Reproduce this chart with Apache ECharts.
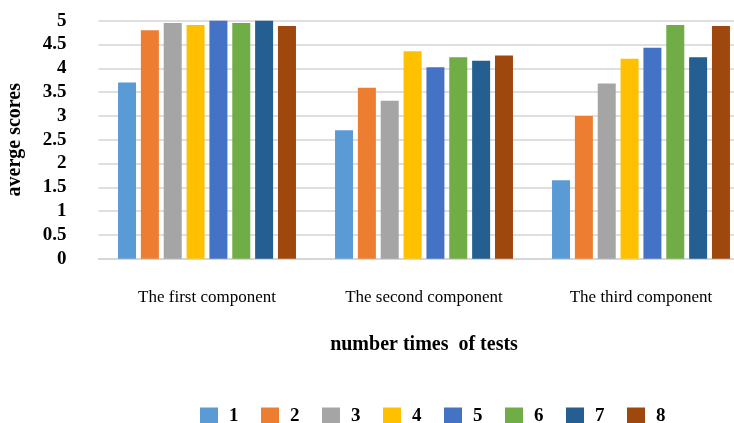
<!DOCTYPE html>
<html>
<head>
<meta charset="utf-8">
<script src="https://cdn.jsdelivr.net/npm/echarts@6/dist/echarts.min.js"></script>
<style>
  html, body { margin: 0; padding: 0; background: #fff; }
  #chart { width: 734px; height: 423px; }
</style>
</head>
<body>
<div id="chart"></div>
<script>
var categories = ['The first component', 'The second component', 'The third component'];
var testNames = ['1', '2', '3', '4', '5', '6', '7', '8'];
var test1 = [3.70, 2.70, 1.65];
var test2 = [4.80, 3.59, 3.00];
var test3 = [4.95, 3.32, 3.68];
var test4 = [4.91, 4.36, 4.20];
var test5 = [5.00, 4.02, 4.43];
var test6 = [4.95, 4.23, 4.91];
var test7 = [5.00, 4.16, 4.23];
var test8 = [4.89, 4.27, 4.89];
var colors = ['#5B9BD5', '#ED7D31', '#A5A5A5', '#FFC000', '#4472C4', '#70AD47', '#255E91', '#9E480E'];

var allValues = [test1, test2, test3, test4, test5, test6, test7, test8];
var font = '"Liberation Serif", "Times New Roman", serif';

var series = testNames.map(function (name, i) {
  return {
    name: name,
    type: 'bar',
    data: allValues[i],
    barGap: '27%',
    barCategoryGap: '18%',
    itemStyle: { color: colors[i] }
  };
});

var myChart = echarts.init(document.getElementById('chart'));
var option = {
  animation: false,
  color: colors,
  grid: { left: 98.5, top: 20.7, width: 651, bottom: 164.3, outerBoundsMode: 'none', containLabel: false },
  legend: {
    data: testNames,
    left: 195,
    top: 402,
    itemWidth: 18,
    itemHeight: 18,
    itemGap: 22.5,
    icon: 'rect',
    textStyle: {
      fontFamily: font, fontWeight: 'bold', fontSize: 19, color: '#000',
      padding: [0, 0, 0, 6]
    }
  },
  xAxis: {
    type: 'category',
    data: categories,
    name: 'number times  of tests',
    nameLocation: 'middle',
    nameGap: 76,
    nameTextStyle: { fontFamily: font, fontWeight: 'bold', fontSize: 20, color: '#000' },
    axisLine: { lineStyle: { color: '#d4d4d4', width: 1.5 } },
    axisTick: { show: false },
    axisLabel: { margin: 30, fontFamily: font, fontSize: 17, color: '#000' }
  },
  yAxis: {
    type: 'value',
    min: 0,
    max: 5,
    interval: 0.5,
    name: 'averge scores',
    nameLocation: 'middle',
    nameGap: 74,
    nameTextStyle: { fontFamily: font, fontWeight: 'bold', fontSize: 20, color: '#000' },
    axisLine: { show: false },
    axisTick: { show: false },
    splitLine: { lineStyle: { color: '#d4d4d4', width: 1.5 } },
    axisLabel: { margin: 32, fontFamily: font, fontWeight: 'bold', fontSize: 19, color: '#000' }
  },
  series: series
};
if (option && typeof option === 'object') {
  myChart.setOption(option, true);
}
</script>
</body>
</html>
